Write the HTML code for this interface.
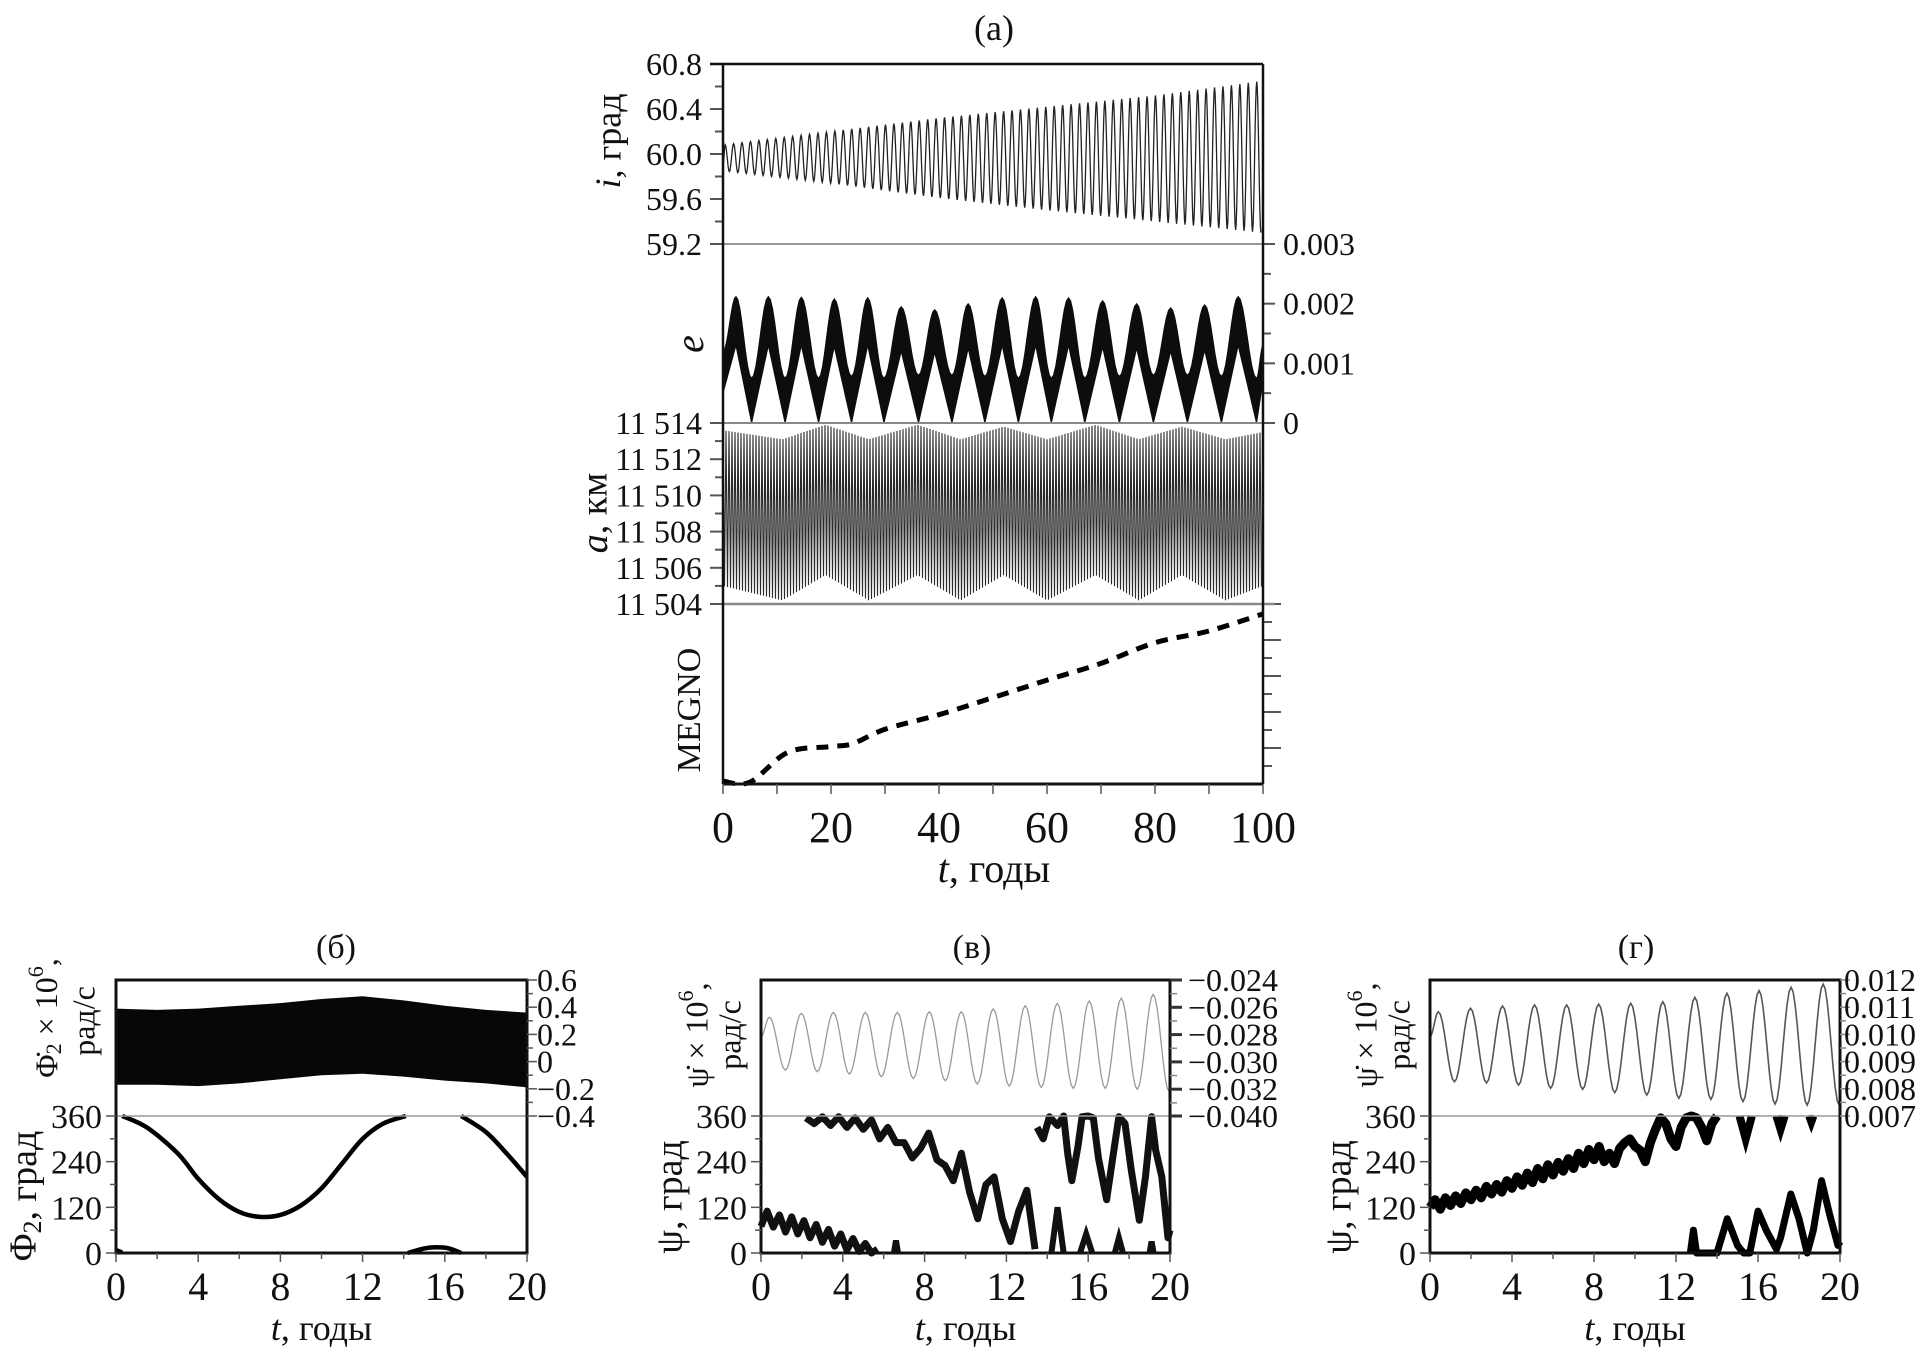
<!DOCTYPE html>
<html><head><meta charset="utf-8"><title>Orbital evolution chart</title>
<style>
html,body{margin:0;padding:0;background:#fff;}
svg{display:block;font-family:"Liberation Serif","DejaVu Serif",serif;}
</style></head>
<body>
<svg id="fig" xmlns="http://www.w3.org/2000/svg" width="1929" height="1351" viewBox="0 0 1929 1351"></svg>
<script>
// ---------- data: panel (a) ----------
const iEnvT = [0, 20, 40, 60, 80, 100];
const iUpper = [60.08, 60.2, 60.32, 60.42, 60.52, 60.65];
const iLower = [59.85, 59.74, 59.61, 59.5, 59.4, 59.3];
const iCycles = [64];
const iTicks = ["59.2", "59.6", "60.0", "60.4", "60.8"];

const ePeakT = [2.4, 8.4, 14.5, 20.6, 26.8, 33, 39.2, 45.4, 51.7, 57.9, 64, 70.3, 76.6, 82.9, 89.2, 95.4];
const ePeakUpper = [0.00212, 0.00212, 0.00211, 0.00208, 0.0021, 0.00195, 0.0019, 0.002, 0.0021, 0.00212, 0.0021, 0.00205, 0.002, 0.00193, 0.00198, 0.00212];
const ePeakLower = [0.0013, 0.0013, 0.0013, 0.00128, 0.0013, 0.0012, 0.00118, 0.00125, 0.0013, 0.0013, 0.0013, 0.00127, 0.00125, 0.0012, 0.00122, 0.0013];
const eMinT = [5.3, 11.5, 17.7, 23.8, 29.8, 36.2, 42.4, 48.5, 54.7, 60.8, 67, 73.4, 79.7, 86, 92.3, 98.8];
const eMinUpper = [0.00075, 0.00075, 0.00075, 0.00078, 0.00075, 0.0008, 0.0008, 0.00078, 0.00075, 0.00075, 0.00075, 0.00078, 0.0008, 0.0008, 0.00078, 0.00075];
const eMinLower = [0, 0, 0, 0, 0, 0, 0, 0, 0, 0, 0, 0, 0, 0, 0, 0];
const eStart = [0.0012, 0.0005];
const eEnd = [0.0013, 0.0007];
const eTicks = ["0", "0.001", "0.002", "0.003"];

const aEnvT = [0, 11, 19, 27, 36, 44, 52, 60, 69, 77, 85, 93, 100];
const aUpper = [11513.6, 11513.1, 11513.9, 11513.1, 11513.9, 11513.1, 11513.8, 11513.1, 11513.9, 11513.1, 11513.8, 11513.1, 11513.5];
const aLower = [11505.0, 11504.2, 11505.6, 11504.2, 11505.6, 11504.2, 11505.6, 11504.2, 11505.6, 11504.2, 11505.6, 11504.2, 11505.0];
const aCycles = [180];
const aTicks = ["11 504", "11 506", "11 508", "11 510", "11 512", "11 514"];

const megnoT = [0, 5, 12, 20, 24, 30, 40, 50, 60, 70, 80, 90, 100];
const megnoV = [0.16, 0.1, 1.76, 2.08, 2.24, 3.04, 3.85, 4.8, 5.77, 6.7, 7.85, 8.5, 9.45];
const tTicksA = ["0", "20", "40", "60", "80", "100"];

// ---------- data: panel (б) ----------
const phiDotT = [0, 2, 4, 6, 8, 10, 12, 14, 16, 18, 20];
const phiDotUpper = [0.39, 0.38, 0.39, 0.41, 0.43, 0.46, 0.48, 0.45, 0.41, 0.38, 0.36];
const phiDotLower = [-0.17, -0.17, -0.18, -0.16, -0.13, -0.1, -0.09, -0.11, -0.14, -0.16, -0.19];
const phiDotTicks = ["−0.4", "−0.2", "0", "0.2", "0.4", "0.6"];
const phiSeg1T = [0.3, 1.5, 3, 4, 5, 6, 7, 8, 9, 10, 11, 12, 13, 14.1];
const phiSeg1V = [360, 330, 262, 195, 142, 108, 95, 100, 125, 170, 235, 300, 340, 360];
const phiSeg2T = [16.8, 18, 19, 20];
const phiSeg2V = [360, 318, 262, 200];
const phiSeg3T = [14.2, 15, 15.6, 16.2, 16.8];
const phiSeg3V = [0, 12, 15, 12, 0];
const phiSeg4T = [0, 0.3];
const phiSeg4V = [8, 1];

// ---------- data: panel (в) ----------
const psiDotV_start = [-0.02816];
const psiDotV_peaks = [-0.02673, -0.02644, -0.02637, -0.02637, -0.02637, -0.02632, -0.02632, -0.02612, -0.02588, -0.02571, -0.02554, -0.02534, -0.02505];
const psiDotV_troughs = [-0.0306, -0.03072, -0.03089, -0.03109, -0.03121, -0.03138, -0.03162, -0.03177, -0.03187, -0.03194, -0.03194, -0.03201, -0.03219];
const psiDotPeriod = [1.564];
const psiDotFirstPeak = [0.41];
const psiDotTicksV = ["−0.040", "−0.032", "−0.030", "−0.028", "−0.026", "−0.024"];
const psiVsegAT = [0, 0.3, 0.6, 0.9, 1.2, 1.5, 1.8, 2.1, 2.4, 2.7, 3.0, 3.3, 3.6, 3.9, 4.2, 4.5, 4.8, 5.1, 5.4, 5.7];
const psiVsegAV = [70, 110, 68, 100, 55, 95, 50, 85, 40, 75, 28, 62, 18, 50, 8, 38, 4, 25, 0, 10];
const psiVsegBT = [2.2, 2.6, 3.0, 3.4, 3.8, 4.2, 4.6, 5.0, 5.4, 5.8, 6.2, 6.6, 7.0, 7.4, 7.8, 8.2, 8.6, 9.0, 9.4, 9.8, 10.2, 10.6, 11.0, 11.4, 11.8, 12.2, 12.6, 13.0, 13.4];
const psiVsegBV = [355, 340, 358, 335, 358, 330, 355, 325, 350, 300, 330, 290, 290, 250, 275, 315, 245, 230, 190, 262, 160, 90, 180, 200, 90, 30, 110, 165, 10];
const psiVsegCT = [13.5, 13.8, 14.1, 14.5, 14.8, 15.0, 15.2, 15.5, 15.7, 16.0, 16.25, 16.5, 16.9, 17.2, 17.5, 17.8, 18.1, 18.5, 18.8, 19.1, 19.3, 19.6, 19.9, 20];
const psiVsegCV = [330, 300, 358, 335, 360, 260, 190, 280, 358, 360, 355, 250, 140, 250, 358, 340, 220, 86, 200, 358, 270, 200, 40, 60];
const psiVsegDT = [14.2, 14.5, 14.8, 15.6, 15.9, 16.2, 17.3, 17.5, 17.7, 19.0, 19.1, 19.2, 6.5, 6.6, 6.7];
const psiVsegDV = [0, 120, 0, 0, 50, 0, 0, 40, 0, 0, 30, 0, 0, 33, 0];

// ---------- data: panel (г) ----------
const psiDotG_start = [0.00992];
const psiDotG_peaks = [0.01083, 0.01096, 0.01104, 0.01108, 0.01108, 0.01111, 0.01114, 0.0112, 0.01136, 0.01151, 0.01161, 0.01173, 0.01185];
const psiDotG_troughs = [0.00826, 0.00822, 0.00814, 0.00802, 0.00798, 0.00786, 0.00777, 0.00765, 0.00761, 0.00753, 0.00744, 0.0074, 0.0074];
const psiDotGTicks = ["0.007", "0.008", "0.009", "0.010", "0.011", "0.012"];
const psiGmainT = [0,0.25,0.5,0.75,1,1.25,1.5,1.75,2,2.25,2.5,2.75,3,3.25,3.5,3.75,4,4.25,4.5,4.75,5,5.25,5.5,5.75,6,6.25,6.5,6.75,7,7.25,7.5,7.75,8,8.25,8.5,8.75,9,9.25,9.5,9.75,10,10.25,10.5,10.75,11,11.25,11.5,11.75,12,12.25,12.5,12.75,13,13.25,13.5,13.75,14];
const psiGmainV = [120,140,115,145,125,150,130,158,140,165,145,175,155,180,160,190,170,200,178,210,185,222,195,232,205,238,215,248,222,262,235,272,245,280,240,262,235,275,290,300,280,270,240,290,325,355,340,300,280,330,355,360,355,330,295,340,360];
const psiGtopT = [15.1, 15.4, 15.7, 16.9, 17.1, 17.3, 18.5, 18.6, 18.7];
const psiGtopV = [360, 300, 360, 360, 325, 360, 360, 345, 360];
const psiGlowT = [12.7, 12.85, 13.0, 14.0, 14.5, 15.0, 15.3, 15.6, 16.0, 16.4, 16.9, 17.1, 17.6, 18.0, 18.4, 18.7, 19.1, 19.5, 19.9, 20];
const psiGlowV = [0, 60, 0, 0, 90, 20, 0, 0, 110, 60, 10, 40, 155, 90, 0, 60, 190, 100, 20, 30];

const angTicks = ["0", "120", "240", "360"];
const tTicksB = ["0", "4", "8", "12", "16", "20"];

// ---------- helpers ----------
const NS = "http://www.w3.org/2000/svg";
const svg = document.getElementById("fig");
function named(el, name) {
  
  
  return el;
}
function mk(tag, attrs, parent) {
  const el = document.createElementNS(NS, tag);
  for (const k in attrs) el.setAttribute(k, attrs[k]);
  (parent || svg).appendChild(el);
  return el;
}
function lin(d0, d1, r0, r1) { return v => r0 + (v - d0) / (d1 - d0) * (r1 - r0); }
function interp(ts, vs, t) {
  if (t <= ts[0]) return vs[0];
  for (let k = 1; k < ts.length; k++) if (t <= ts[k]) return vs[k-1] + (vs[k]-vs[k-1]) * (t - ts[k-1]) / (ts[k]-ts[k-1]);
  return vs[vs.length-1];
}
function txt(x, y, s, size, anchor, name, extra) {
  const t = mk("text", Object.assign({x: x, y: y, "font-size": size, "text-anchor": anchor || "middle", fill: "#111"}, extra || {}));
  t.textContent = s;
  named(t, name);
  return t;
}
function vtxt(cx, cy, html, size, name) {
  const t = mk("text", {x: 0, y: 0, "font-size": size, "text-anchor": "middle", fill: "#111", transform: "translate(" + cx + "," + cy + ") rotate(-90)", "dominant-baseline": "middle"});
  t.innerHTML = html;
  named(t, name);
  return t;
}
function line(x1, y1, x2, y2, stroke, w, name) {
  const l = mk("line", {x1: x1, y1: y1, x2: x2, y2: y2, stroke: stroke, "stroke-width": w});
  named(l, name);
  return l;
}
function poly(pts, attrs, name) {
  const p = mk("polyline", Object.assign({points: pts.map(p => p[0].toFixed(2) + "," + p[1].toFixed(2)).join(" "), fill: "none"}, attrs));
  named(p, name);
  return p;
}
function cosPath(nodes, sx, sy) {
  const pts = [];
  for (let k = 0; k < nodes.length - 1; k++) {
    const [t0, v0] = nodes[k], [t1, v1] = nodes[k+1];
    for (let j = 0; j < 8; j++) {
      const f = j / 8, g = (1 - Math.cos(Math.PI * f)) / 2;
      pts.push([sx(t0 + (t1 - t0) * f), sy(v0 + (v1 - v0) * g)]);
    }
  }
  const last = nodes[nodes.length-1];
  pts.push([sx(last[0]), sy(last[1])]);
  return pts;
}
// Catmull-Rom smoothing of pixel points
function smoothD(pts) {
  let d = "M" + pts[0][0].toFixed(2) + "," + pts[0][1].toFixed(2);
  for (let i = 0; i < pts.length - 1; i++) {
    const p0 = pts[Math.max(0, i-1)], p1 = pts[i], p2 = pts[i+1], p3 = pts[Math.min(pts.length-1, i+2)];
    const c1 = [p1[0] + (p2[0]-p0[0])/6, p1[1] + (p2[1]-p0[1])/6];
    const c2 = [p2[0] - (p3[0]-p1[0])/6, p2[1] - (p3[1]-p1[1])/6];
    d += " C" + c1[0].toFixed(2) + "," + c1[1].toFixed(2) + " " + c2[0].toFixed(2) + "," + c2[1].toFixed(2) + " " + p2[0].toFixed(2) + "," + p2[1].toFixed(2);
  }
  return d;
}

// ================= PANEL (a) =================
const AX0 = 723, AX1 = 1263;
const aTop = 64, iBot = 244, eBot = 423, aBot = 604, mBot = 784;
const xA = lin(0, 100, AX0, AX1);
txt(994, 40, "(a)", 36, "middle", "panel-a-title");

// i panel
const yI = lin(59.2, 60.8, iBot, aTop);
{
  const N = iCycles[0], P = 100 / N, nodes = [[0, 59.9]];
  for (let k = 0; k < N; k++) {
    const tp = 0.4 + k * P, tt = tp + P / 2;
    if (tp <= 100) nodes.push([tp, interp(iEnvT, iUpper, tp)]);
    if (tt <= 100) nodes.push([tt, interp(iEnvT, iLower, tt)]);
  }
  poly(cosPath(nodes, xA, yI), {stroke: "#222", "stroke-width": 1.3}, "inclination-series");
}
for (let k = 0; k <= 8; k++) {
  const v = 59.2 + k * 0.2, y = yI(v), major = k % 2 === 0;
  line(AX0 - (major ? 13 : 8), y, AX0, y, "#555", 2, "i-tick");
}
iTicks.forEach(s => txt(702, yI(parseFloat(s)) + 11, s, 32, "end", "i-tick-label"));
vtxt(612, 141, '<tspan font-style="italic">i</tspan>, град', 36, "i-axis-title");

// e panel
const yE = lin(0, 0.003, eBot, iBot);
{
  const up = [[0, eStart[0]]], lo = [[0, eStart[1]]];
  for (let k = 0; k < ePeakT.length; k++) {
    up.push([ePeakT[k], ePeakUpper[k]]); lo.push([ePeakT[k], ePeakLower[k]]);
    up.push([eMinT[k], eMinUpper[k]]); lo.push([eMinT[k], eMinLower[k]]);
  }
  up.push([100, eEnd[0]]); lo.push([100, eEnd[1]]);
  const upPts = cosPath(up, xA, yE);
  const loPts = lo.map(p => [xA(p[0]), yE(p[1])]);
  const all = upPts.concat(loPts.reverse());
  const pg = mk("polygon", {points: all.map(p => p[0].toFixed(2) + "," + p[1].toFixed(2)).join(" "), fill: "#0d0d0d", stroke: "#0d0d0d", "stroke-width": 1});
  named(pg, "eccentricity-band");
}
for (let k = 0; k <= 6; k++) {
  const v = k * 0.0005, y = yE(v);
  line(AX1, y, AX1 + (k % 2 === 0 ? 12 : 8), y, "#555", 2, "e-tick");
}
eTicks.forEach(s => txt(1283, yE(parseFloat(s)) + 11, s, 32, "start", "e-tick-label"));
vtxt(694, 344, '<tspan font-style="italic">e</tspan>', 40, "e-axis-title");

// a panel
const yAk = lin(11504, 11514, aBot, eBot);
{
  const N = aCycles[0], P = 100 / N, pts = [];
  for (let k = 0; k < N; k++) {
    const tp = k * P, tt = tp + P / 2;
    pts.push([xA(tp), yAk(interp(aEnvT, aUpper, tp))]);
    pts.push([xA(tt), yAk(interp(aEnvT, aLower, tt))]);
  }
  poly(pts, {stroke: "#2a2a2a", "stroke-width": 1.1}, "semimajor-axis-series");
}
for (let k = 0; k <= 10; k++) {
  const y = yAk(11504 + k);
  line(AX0 - (k % 2 === 0 ? 13 : 8), y, AX0, y, "#555", 2, "a-tick");
}
aTicks.forEach(s => txt(702, yAk(parseFloat(s.replace(" ", ""))) + 11, s, 32, "end", "a-tick-label"));
vtxt(598, 513, '<tspan font-style="italic">a</tspan>, км', 38, "a-axis-title");

// MEGNO panel
const yM = lin(0, 10, mBot, aBot);
{
  const mp = mk("path", {d: smoothD(megnoT.map((t, k) => [xA(t), yM(megnoV[k])])), fill: "none", stroke: "#000", "stroke-width": 5, "stroke-dasharray": "12 9"});
  named(mp, "megno-series");
}
for (let k = 1; k <= 10; k++) {
  const y = mBot - k * 18;
  line(AX1, y, AX1 + (k % 2 === 0 ? 18 : 9), y, "#555", 2, "megno-tick");
}
vtxt(692, 710, "MEGNO", 34, "megno-axis-title");

// frame and dividers (a)
line(AX0, iBot, AX1, iBot, "#777", 1.5, "divider-i-e");
line(AX0, eBot, AX1, eBot, "#888", 2, "divider-e-a");
line(AX0, aBot, AX1 + 12, aBot, "#888", 2.5, "divider-a-megno");
line(AX0 - 13, aTop, AX1, aTop, "#111", 2.5, "panel-a-top-frame");
line(AX0, aTop, AX0, mBot, "#111", 2.5, "panel-a-left-axis");
line(AX1, aTop, AX1, mBot, "#111", 2.5, "panel-a-right-axis");
line(AX0, mBot, AX1, mBot, "#111", 3, "panel-a-x-axis");
for (let k = 0; k <= 10; k++) line(xA(k * 10), mBot, xA(k * 10), mBot + 10, "#555", 1.5, "x-tick-a");
tTicksA.forEach(s => txt(xA(parseFloat(s)), 842, s, 44, "middle", "x-tick-label-a"));
const xlA = txt(994, 882, "", 40, "middle", "x-axis-title-a");
xlA.innerHTML = '<tspan font-style="italic">t</tspan>, годы';

// ================= bottom panels =================
const BT = 980, BD = 1116, BB = 1253;
const yAng = lin(0, 360, BB, BD);
function bottomFrame(x0, x1, key) {
  line(x0, BD, x1, BD, "#999", 1.5, key + "-divider");
  const r = mk("rect", {x: x0, y: BT, width: x1 - x0, height: BB - BT, fill: "none", stroke: "#111", "stroke-width": 3});
  named(r, key + "-frame");
  const xs = lin(0, 20, x0, x1);
  for (let k = 0; k <= 10; k++) line(xs(k * 2), BB, xs(k * 2), BB + (k % 2 === 0 ? 9 : 6), "#555", 1.5, key + "-x-tick");
  for (let k = 0; k <= 6; k++) line(x0 - (k % 2 === 0 ? 10 : 6), yAng(k * 60), x0, yAng(k * 60), "#555", 1.5, key + "-y-tick");
  tTicksB.forEach(s => txt(xs(parseFloat(s)), 1300, s, 40, "middle", key + "-x-tick-label"));
  angTicks.forEach(s => txt(x0 - 14, yAng(parseFloat(s)) + 12, s, 34, "end", key + "-y-tick-label"));
  const xl = txt((x0 + x1) / 2, 1340, "", 36, "middle", key + "-x-axis-title");
  xl.innerHTML = '<tspan font-style="italic">t</tspan>, годы';
  return xs;
}

// ---- (б)
const B0 = 116, B1 = 527;
txt(336, 958, "(б)", 34, "middle", "panel-b-title");
const xB = lin(0, 20, B0, B1);
const yPD = lin(-0.4, 0.6, BD, BT);
{
  const up = phiDotT.map((t, k) => [xB(t), yPD(phiDotUpper[k])]);
  const lo = phiDotT.map((t, k) => [xB(t), yPD(phiDotLower[k])]);
  const pg = mk("polygon", {points: up.concat(lo.reverse()).map(p => p[0].toFixed(1) + "," + p[1].toFixed(1)).join(" "), fill: "#070707"});
  named(pg, "phi-dot-band");
}
[[phiSeg1T, phiSeg1V], [phiSeg2T, phiSeg2V], [phiSeg3T, phiSeg3V], [phiSeg4T, phiSeg4V]].forEach(([ts, vs]) => {
  const p = mk("path", {d: smoothD(ts.map((t, k) => [xB(t), yAng(vs[k])])), fill: "none", stroke: "#000", "stroke-width": 4.5});
  named(p, "phi2-series");
});
bottomFrame(B0, B1, "panel-b");
for (let k = 0; k <= 10; k++) line(B1, yPD(-0.4 + k * 0.1), B1 + (k % 2 === 0 ? 10 : 6), yPD(-0.4 + k * 0.1), "#555", 1.5, "phi-dot-tick");
phiDotTicks.forEach(s => txt(B1 + 10, yPD(parseFloat(s.replace("−", "-"))) + 11, s, 32, "start", "phi-dot-tick-label"));
vtxt(50, 1018, 'Φ̇<tspan font-size="22" dy="6">2</tspan><tspan dy="-6"> × 10</tspan><tspan font-size="22" dy="-12">6</tspan><tspan dy="12">,</tspan>', 32, "phi-dot-axis-title");
vtxt(87, 1021, "рад/с", 32, "phi-dot-axis-unit");
vtxt(27, 1196, 'Φ<tspan font-size="26" dy="8">2</tspan><tspan dy="-8">, град</tspan>', 38, "phi2-axis-title");

// ---- (в)
const V0 = 761, V1 = 1170;
txt(972, 958, "(в)", 34, "middle", "panel-c-title");
const xV = lin(0, 20, V0, V1);
const yVD = lin(-0.034, -0.024, BT + 136.5, BT);
{
  const nodes = [[0, psiDotV_start[0]]];
  const P = psiDotPeriod[0], t0 = psiDotFirstPeak[0];
  psiDotV_peaks.forEach((v, k) => {
    nodes.push([t0 + k * P, v]);
    const tt = t0 + k * P + P / 2;
    if (tt <= 20) nodes.push([tt, psiDotV_troughs[k]]);
  });
  poly(cosPath(nodes, xV, yVD), {stroke: "#999", "stroke-width": 1.3}, "psi-dot-series-c");
}
const psiSegs = [[psiVsegAT, psiVsegAV], [psiVsegBT, psiVsegBV], [psiVsegCT, psiVsegCV]];
psiSegs.forEach(([ts, vs]) => poly(ts.map((t, k) => [xV(t), yAng(vs[k])]), {stroke: "#111", "stroke-width": 7, "stroke-linejoin": "round"}, "psi-series-c"));
for (let k = 0; k < psiVsegDT.length; k += 3) {
  poly([0, 1, 2].map(j => [xV(psiVsegDT[k + j]), yAng(psiVsegDV[k + j])]), {stroke: "#111", "stroke-width": 6}, "psi-series-c-wrap");
}
bottomFrame(V0, V1, "panel-c");
psiDotTicksV.forEach((s, k) => {
  const y = k === 0 ? BD : yVD(parseFloat(s.replace("−", "-")));
  line(V1, y, V1 + 12, y, "#333", 3, "psi-dot-tick-c");
  txt(V1 + 18, y + 11, s, 32, "start", "psi-dot-tick-label-c");
});
for (let k = 0; k < 5; k++) line(V1, yVD(-0.025 - k * 0.002), V1 + 7, yVD(-0.025 - k * 0.002), "#888", 1.5, "psi-dot-minor-tick-c");
vtxt(700, 1035, 'ψ̇ × 10<tspan font-size="22" dy="-12">6</tspan><tspan dy="12">,</tspan>', 32, "psi-dot-axis-title-c");
vtxt(733, 1035, "рад/с", 32, "psi-dot-axis-unit-c");
vtxt(673, 1197, "ψ, град", 38, "psi-axis-title-c");

// ---- (г)
const G0 = 1430, G1 = 1840;
txt(1636, 958, "(г)", 34, "middle", "panel-d-title");
const xG = lin(0, 20, G0, G1);
const yGD = lin(0.007, 0.012, BD, BT);
{
  const nodes = [[0, psiDotG_start[0]]];
  const P = psiDotPeriod[0], t0 = psiDotFirstPeak[0];
  psiDotG_peaks.forEach((v, k) => {
    nodes.push([t0 + k * P, v]);
    const tt = t0 + k * P + P / 2;
    if (tt <= 20) nodes.push([tt, psiDotG_troughs[k]]);
  });
  poly(cosPath(nodes, xG, yGD), {stroke: "#555", "stroke-width": 1.6}, "psi-dot-series-d");
}
poly(psiGmainT.map((t, k) => [xG(t), yAng(psiGmainV[k])]), {stroke: "#000", "stroke-width": 9, "stroke-linejoin": "round"}, "psi-series-d");
for (let k = 0; k < psiGtopT.length; k += 3) {
  poly([0, 1, 2].map(j => [xG(psiGtopT[k + j]), yAng(psiGtopV[k + j])]), {stroke: "#000", "stroke-width": 8}, "psi-series-d-top");
}
poly(psiGlowT.map((t, k) => [xG(t), yAng(psiGlowV[k])]), {stroke: "#000", "stroke-width": 7, "stroke-linejoin": "round"}, "psi-series-d-wrap");
bottomFrame(G0, G1, "panel-d");
for (let k = 0; k <= 10; k++) line(G1, yGD(0.007 + k * 0.0005), G1 + (k % 2 === 0 ? 10 : 6), yGD(0.007 + k * 0.0005), "#888", 1.5, "psi-dot-tick-d");
psiDotGTicks.forEach(s => txt(G1 + 4, yGD(parseFloat(s)) + 11, s, 32, "start", "psi-dot-tick-label-d"));
vtxt(1369, 1035, 'ψ̇ × 10<tspan font-size="22" dy="-12">6</tspan><tspan dy="12">,</tspan>', 32, "psi-dot-axis-title-d");
vtxt(1402, 1035, "рад/с", 32, "psi-dot-axis-unit-d");
vtxt(1342, 1197, "ψ, град", 38, "psi-axis-title-d");
</script>
</body></html>
